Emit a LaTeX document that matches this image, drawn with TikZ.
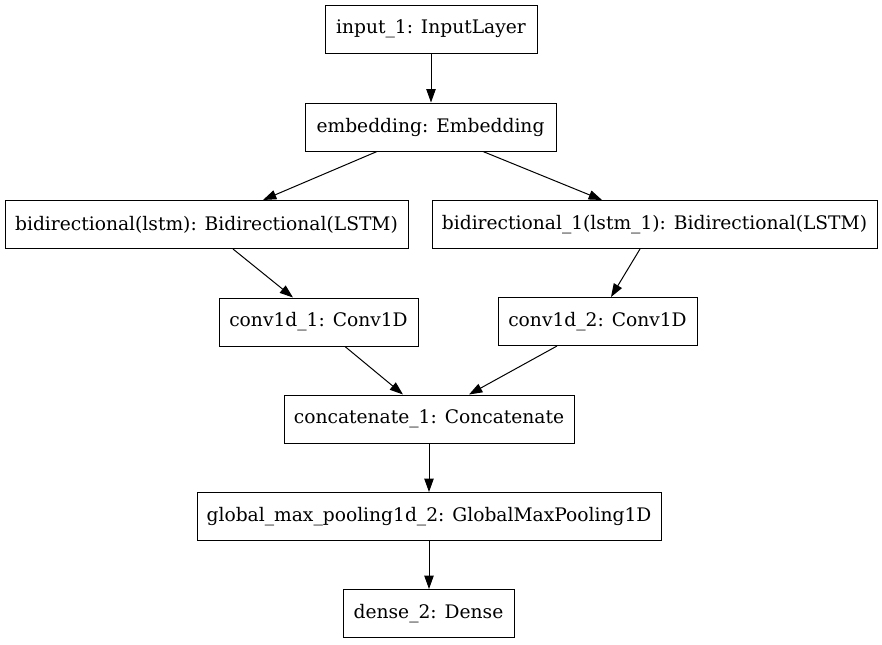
\documentclass[tikz,border=0pt]{standalone}
\usepackage{fontspec}
\setmainfont{DejaVu Serif}
\usetikzlibrary{arrows.meta,calc}
\begin{document}
\begin{tikzpicture}[x=0.75pt,y=-0.75pt,
 layer/.style={draw,line width=0.75pt,inner sep=0pt,minimum height=36pt,font=\fontsize{14}{16}\selectfont},
 arr/.style={line width=0.75pt,-{Triangle[length=10pt,width=7pt]}}]
\useasboundingbox (0,0) rectangle (882,644);
\node[layer,minimum width=159pt] (in) at (431,29) {input\_1: InputLayer};
\node[layer,minimum width=188.25pt] (emb) at (430.5,127) {embedding: Embedding};
\node[layer,minimum width=302.25pt] (bi) at (206.5,224.5) {bidirectional(lstm): Bidirectional(LSTM)};
\node[layer,minimum width=333.75pt] (bione) at (654.5,224.5) {bidirectional\_1(lstm\_1): Bidirectional(LSTM)};
\node[layer,minimum width=149.25pt] (cone) at (318.5,322) {conv1d\_1: Conv1D};
\node[layer,minimum width=149.25pt] (ctwo) at (597.5,321.5) {conv1d\_2: Conv1D};
\node[layer,minimum width=217.5pt] (cat) at (429,419) {concatenate\_1: Concatenate};
\node[layer,minimum width=348pt] (gmp) at (429,516.5) {global\_max\_pooling1d\_2: GlobalMaxPooling1D};
\node[layer,minimum width=128.25pt] (dense) at (428.5,613.5) {dense\_2: Dense};
\draw[arr] (in.south) -- (in.south |- emb.north);
\draw[arr] ([xshift=-53.5*0.75pt]emb.south) -- ([xshift=56.5*0.75pt]bi.north);
\draw[arr] ([xshift=52.5*0.75pt]emb.south) -- ([xshift=-52.5*0.75pt]bione.north);
\draw[arr] ([xshift=26.5*0.75pt]bi.south) -- ([xshift=-25.5*0.75pt]cone.north);
\draw[arr] ([xshift=-14.5*0.75pt]bione.south) -- ([xshift=13.5*0.75pt]ctwo.north);
\draw[arr] ([xshift=26.5*0.75pt]cone.south) -- ([xshift=-26*0.75pt]cat.north);
\draw[arr] ([xshift=-40.5*0.75pt]ctwo.south) -- ([xshift=40*0.75pt]cat.north);
\draw[arr] (cat.south) -- (cat.south |- gmp.north);
\draw[arr] (gmp.south) -- (gmp.south |- dense.north);
\end{tikzpicture}
\end{document}
